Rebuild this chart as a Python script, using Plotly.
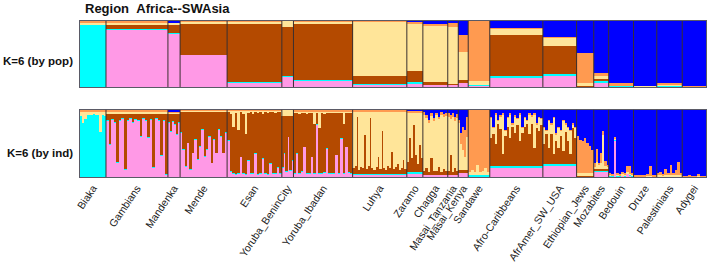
import plotly.graph_objects as go
from plotly.subplots import make_subplots

# ---------------- data ----------------
pops = ["Biaka", "Gambians", "Mandenka", "Mende", "Esan", "Yoruba_BeninCity", "Yoruba_Ibadan",
        "Luhya", "Zaramo", "Chagga", "Masai_Tanzania", "Masai_Kenya", "Sandawe", "Afro-Caribbeans",
        "AfrAmer_SW_USA", "Ethiopian_Jews", "Mozabites", "Bedouin", "Druze", "Palestinians", "Adygei"]
n_ind = [47, 112, 22, 85, 99, 21, 107, 98, 29, 45, 19, 18, 39, 96, 61, 31, 27, 45, 42, 46, 43]

clusters = ["pink", "cyan", "brown", "yellow", "orange", "blue"]   # stacking order, bottom -> top
cluster_colors = ["#FF99E6", "#00FFFF", "#B44A00", "#FFE599", "#FF9A50", "#0000FF"]

# population-level ancestry fractions (K=6 by pop)
pop_pink   = [0.000, 0.870, 0.810, 0.485, 0.070, 0.160, 0.095, 0.045, 0.060, 0.035, 0.035, 0.060, 0.015, 0.150, 0.180, 0.010, 0.075, 0.010, 0.005, 0.010, 0.003]
pop_cyan   = [0.940, 0.005, 0.005, 0.005, 0.005, 0.005, 0.005, 0.005, 0.020, 0.000, 0.000, 0.000, 0.015, 0.020, 0.010, 0.000, 0.030, 0.010, 0.005, 0.005, 0.002]
pop_brown  = [0.000, 0.070, 0.125, 0.475, 0.890, 0.750, 0.855, 0.120, 0.165, 0.045, 0.015, 0.040, 0.000, 0.615, 0.430, 0.010, 0.020, 0.000, 0.000, 0.000, 0.000]
pop_yellow = [0.030, 0.030, 0.030, 0.030, 0.030, 0.085, 0.030, 0.815, 0.720, 0.840, 0.860, 0.435, 0.055, 0.105, 0.130, 0.040, 0.040, 0.010, 0.005, 0.010, 0.005]
pop_orange = [0.030, 0.025, 0.010, 0.005, 0.005, 0.000, 0.015, 0.015, 0.025, 0.040, 0.060, 0.250, 0.915, 0.010, 0.010, 0.450, 0.045, 0.030, 0.005, 0.040, 0.005]
pop_blue   = [0.000, 0.000, 0.020, 0.000, 0.000, 0.000, 0.000, 0.000, 0.010, 0.040, 0.030, 0.215, 0.000, 0.100, 0.240, 0.490, 0.790, 0.940, 0.980, 0.935, 0.985]

# individual-level (K=6 by ind): dominant cluster + up to two varying clusters per population
ind_dom = ["cyan", "pink", "pink", "pink", "brown", "brown", "brown", "yellow", "yellow", "yellow",
           "yellow", "yellow", "orange", "brown", "brown", "blue", "blue", "blue", "blue", "blue", "blue"]
ind_a = ["yellow", "brown", "brown", "brown", "pink", "pink", "pink", "brown", "brown", "blue",
         "blue", "blue", "yellow", "yellow", "yellow", "orange", "orange", "pink", "orange", "orange", "orange"]
ind_a_vals = [
    [0.06, 0.17, 0.10, 0.05, 0.04, 0.05, 0.03, 0.04, 0.05, 0.30, 0.04, 0.06],
    [0.10, 0.45, 0.08, 0.12, 0.72, 0.09, 0.07, 0.82, 0.10, 0.06, 0.12, 0.08, 0.10, 0.33, 0.07, 0.09, 0.35, 0.08, 0.80, 0.06, 0.10, 0.62, 0.09, 0.90],
    [0.12, 0.25, 0.10, 0.15, 0.30, 0.12],
    [0.30, 0.55, 0.80, 0.45, 0.85, 0.60, 0.40, 0.70, 0.50, 0.25, 0.65, 0.55, 0.35, 0.75, 0.40, 0.60, 0.25, 0.35, 0.60, 0.30],
    [0.55, 0.08, 0.05, 0.04, 0.06, 0.30, 0.05, 0.04, 0.25, 0.05, 0.06, 0.35, 0.04, 0.05, 0.28, 0.06, 0.04, 0.20, 0.05, 0.06, 0.15, 0.05],
    [0.15, 0.35, 0.08, 0.60, 0.10, 0.25],
    [0.06, 0.35, 0.05, 0.08, 0.45, 0.05, 0.06, 0.30, 0.05, 0.78, 0.06, 0.05, 0.07, 0.43, 0.05, 0.06, 0.05, 0.33, 0.06, 0.58, 0.05, 0.45, 0.07, 0.06],
    [0.08, 0.12, 0.85, 0.06, 0.10, 0.08, 0.58, 0.07, 0.12, 0.83, 0.08, 0.06, 0.10, 0.25, 0.07, 0.63, 0.09, 0.06, 0.12, 0.08, 0.33, 0.07, 0.10, 0.15, 0.06, 0.08, 0.20, 0.07],
    [0.15, 0.50, 0.20, 0.70, 0.25, 0.12, 0.40, 0.20],
    [0.03, 0.08, 0.15, 0.05, 0.12, 0.04, 0.10, 0.03, 0.06, 0.05],
    [0.05, 0.08, 0.04, 0.10, 0.06],
    [0.15, 0.35, 0.25, 0.30, 0.10],
    [0.04, 0.08, 0.05, 0.15, 0.05, 0.06, 0.10, 0.05],
    [0.30, 0.10, 0.45, 0.05, 0.20, 0.60, 0.08, 0.15, 0.35, 0.05, 0.25, 0.10, 0.40, 0.08, 0.15, 0.05, 0.30, 0.12, 0.50, 0.06, 0.20, 0.10],
    [0.25, 0.05, 0.40, 0.15, 0.55, 0.10, 0.30, 0.08, 0.45, 0.12, 0.20, 0.35, 0.06, 0.15],
    [0.55, 0.50, 0.48, 0.52, 0.45, 0.40, 0.35],
    [0.05, 0.20, 0.04, 0.15, 0.06, 0.08, 0.03],
    [0.01, 0.01, 0.55, 0.01, 0.01, 0.02, 0.01, 0.05, 0.03, 0.01],
    [0.01, 0.01, 0.02, 0.01, 0.01, 0.03, 0.15, 0.01, 0.01],
    [0.03, 0.05, 0.02, 0.10, 0.04, 0.15, 0.03, 0.08, 0.20, 0.03],
    [0.01, 0.01, 0.02, 0.01, 0.01, 0.04, 0.01, 0.01],
]
ind_b = ["", "", "", "", "yellow", "", "yellow", "", "", "brown", "brown", "orange", "", "blue",
         "blue", "", "yellow", "orange", "", "", ""]
ind_b_vals = [
    [], [], [], [],
    [0.03, 0.05, 0.25, 0.04, 0.30, 0.03, 0.05, 0.35, 0.04, 0.03, 0.05, 0.03, 0.04, 0.03, 0.05, 0.03, 0.04, 0.03, 0.03, 0.04, 0.03, 0.03],
    [],
    [0.03, 0.03, 0.05, 0.03, 0.03, 0.04, 0.03, 0.03, 0.20, 0.03, 0.25, 0.03, 0.04, 0.03, 0.03, 0.03, 0.03, 0.03, 0.03, 0.03, 0.20, 0.03, 0.03, 0.03],
    [], [],
    [0.05, 0.10, 0.04, 0.25, 0.05, 0.06, 0.12, 0.04, 0.08, 0.05],
    [0.05, 0.30, 0.04, 0.10, 0.05],
    [0.05, 0.15, 0.35, 0.40, 0.30],
    [],
    [0.10, 0.25, 0.05, 0.15, 0.08, 0.05, 0.30, 0.10, 0.05, 0.20, 0.08, 0.12, 0.05, 0.25, 0.10, 0.15, 0.05, 0.08, 0.05, 0.20, 0.10, 0.12],
    [0.25, 0.30, 0.15, 0.20, 0.10, 0.35, 0.25, 0.30, 0.15, 0.20, 0.25, 0.30, 0.20, 0.25],
    [],
    [0.03, 0.10, 0.05, 0.08, 0.50, 0.04, 0.03],
    [0.03, 0.02, 0.03, 0.03, 0.02, 0.04, 0.03, 0.10, 0.12, 0.03],
    [], [], [],
]

title_text = "Region\u00a0\u00a0Africa--SWAsia"
row_labels = ["K=6 (by pop)", "K=6 (by ind)"]

# ---------------- build ----------------
pop_frac = [pop_pink, pop_cyan, pop_brown, pop_yellow, pop_orange, pop_blue]
starts = []
acc = 0
for n in n_ind:
    starts.append(acc)
    acc += n
total = acc
centers = [s + n / 2 for s, n in zip(starts, n_ind)]

# individual bars
ind_x, ind_w = [], []
ind_vals = [[] for _ in clusters]
for i in range(len(pops)):
    avals = ind_a_vals[i]
    L = len(avals)
    w = n_ind[i] / L
    for j in range(L):
        comp = [pop_frac[k][i] for k in range(len(clusters))]
        comp[clusters.index(ind_a[i])] = avals[j]
        if ind_b[i]:
            comp[clusters.index(ind_b[i])] = ind_b_vals[i][j]
        d = clusters.index(ind_dom[i])
        comp[d] = 0
        comp[d] = max(0.0, 1 - sum(comp))
        ind_x.append(starts[i] + (j + 0.5) * w)
        ind_w.append(w)
        for k in range(len(clusters)):
            ind_vals[k].append(comp[k])

fig = make_subplots(rows=2, cols=1, shared_xaxes=False, vertical_spacing=0.0)

for k, name in enumerate(clusters):
    fig.add_trace(go.Bar(x=centers, y=pop_frac[k], width=n_ind, name=name,
                         marker=dict(color=cluster_colors[k], line=dict(width=0)),
                         showlegend=False, hoverinfo="skip"), row=1, col=1)
for k, name in enumerate(clusters):
    fig.add_trace(go.Bar(x=ind_x, y=ind_vals[k], width=ind_w, name=name,
                         marker=dict(color=cluster_colors[k], line=dict(width=0)),
                         showlegend=False, hoverinfo="skip"), row=2, col=1)

# population separators
shapes = []
for s in starts[1:]:
    for xr, yr in (("x", "y domain"), ("x2", "y2 domain")):
        shapes.append(dict(type="line", xref=xr, yref=yr, x0=s, x1=s, y0=0, y1=1,
                           line=dict(color="#3a3030", width=1)))

axis_common = dict(range=[0, total], showgrid=False, zeroline=False, showline=True,
                   mirror=True, linecolor="#5a5a66", linewidth=1, automargin=False)
yaxis_common = dict(range=[0, 1], showticklabels=False, ticks="", showgrid=False, zeroline=False,
                    showline=True, mirror=True, linecolor="#5a5a66", linewidth=1, automargin=False)
fig.update_layout(
    template="none",
    width=707, height=269,
    margin=dict(l=80, r=1, t=21, b=92, autoexpand=False),
    paper_bgcolor="white", plot_bgcolor="white",
    barmode="stack", bargap=0,
    shapes=shapes,
    xaxis=dict(domain=[0, 1], showticklabels=False, ticks="", **axis_common),
    xaxis2=dict(domain=[0, 1], tickmode="array", tickvals=centers, ticktext=pops,
                tickangle=-56, ticks="", ticklen=0,
                tickfont=dict(family="Liberation Sans, Arial", size=10.5, color="#1a1a1a"),
                **axis_common),
    yaxis=dict(domain=[0.577, 1.0], **yaxis_common),
    yaxis2=dict(domain=[0.0, 0.43], **yaxis_common),
    annotations=[
        dict(text="<b>" + title_text + "</b>", xref="paper", yref="paper", x=0.005, y=1.08,
             xanchor="left", yanchor="middle", showarrow=False,
             font=dict(family="Liberation Sans, Arial", size=13, color="#111")),
        dict(text="<b>" + row_labels[0] + "</b>", xref="paper", yref="paper", x=-0.008, y=0.744,
             xanchor="right", yanchor="middle", showarrow=False,
             font=dict(family="Liberation Sans, Arial", size=11.5, color="#111")),
        dict(text="<b>" + row_labels[1] + "</b>", xref="paper", yref="paper", x=-0.008, y=0.154,
             xanchor="right", yanchor="middle", showarrow=False,
             font=dict(family="Liberation Sans, Arial", size=11.5, color="#111")),
    ],
)

fig.write_html("out.html", config={"displayModeBar": False},
               post_script="document.body.style.margin='0px';document.body.style.overflow='hidden';")
